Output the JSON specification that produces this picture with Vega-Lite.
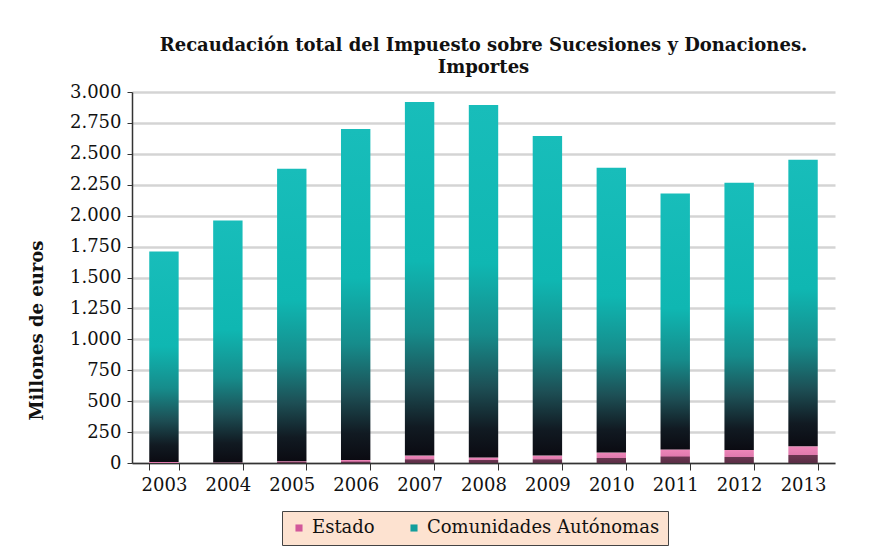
{
  "$schema": "https://vega.github.io/schema/vega-lite/v6.json",
  "autosize": {"type": "none"},
  "width": 703,
  "height": 371,
  "padding": {"left": 132, "top": 92, "right": 51, "bottom": 91},
  "background": "white",
  "config": {
    "locale": {"number": {"decimal": ",", "thousands": ".", "grouping": [3], "currency": ["", " €"]}},
    "view": {"stroke": null},
    "font": "DejaVu Serif"
  },
  "title": {
    "text": ["Recaudación total del Impuesto sobre Sucesiones y Donaciones.", "Importes"],
    "font": "DejaVu Serif",
    "fontSize": 18,
    "fontWeight": "bold",
    "color": "#111111",
    "anchor": "middle",
    "offset": 6,
    "lineHeight": 22
  },
  "data": {
    "values": [
      {"year": "2003", "serie": "Estado", "value": 8},
      {"year": "2003", "serie": "Comunidades Autónomas", "value": 1702},
      {"year": "2004", "serie": "Estado", "value": 5},
      {"year": "2004", "serie": "Comunidades Autónomas", "value": 1955},
      {"year": "2005", "serie": "Estado", "value": 15},
      {"year": "2005", "serie": "Comunidades Autónomas", "value": 2365},
      {"year": "2006", "serie": "Estado", "value": 25},
      {"year": "2006", "serie": "Comunidades Autónomas", "value": 2675},
      {"year": "2007", "serie": "Estado", "value": 60},
      {"year": "2007", "serie": "Comunidades Autónomas", "value": 2860},
      {"year": "2008", "serie": "Estado", "value": 45},
      {"year": "2008", "serie": "Comunidades Autónomas", "value": 2850},
      {"year": "2009", "serie": "Estado", "value": 60},
      {"year": "2009", "serie": "Comunidades Autónomas", "value": 2585},
      {"year": "2010", "serie": "Estado", "value": 85},
      {"year": "2010", "serie": "Comunidades Autónomas", "value": 2302},
      {"year": "2011", "serie": "Estado", "value": 110},
      {"year": "2011", "serie": "Comunidades Autónomas", "value": 2070},
      {"year": "2012", "serie": "Estado", "value": 105},
      {"year": "2012", "serie": "Comunidades Autónomas", "value": 2162},
      {"year": "2013", "serie": "Estado", "value": 135},
      {"year": "2013", "serie": "Comunidades Autónomas", "value": 2317}
    ]
  },
  "mark": {"type": "bar"},
  "encoding": {
    "x": {
      "field": "year",
      "type": "nominal",
      "scale": {"paddingInner": 0.54, "paddingOuter": 0.27},
      "axis": {
        "title": null,
        "labelAngle": 0,
        "labelFont": "DejaVu Serif",
        "labelFontSize": 18,
        "labelColor": "#111111",
        "labelPadding": 6,
        "domainColor": "#333333",
        "domainWidth": 1.5,
        "tickColor": "#333333",
        "tickSize": 7,
        "tickBand": "extent",
        "grid": false
      }
    },
    "y": {
      "field": "value",
      "type": "quantitative",
      "stack": "zero",
      "scale": {"domain": [0, 3000], "nice": false},
      "axis": {
        "title": "Millones de euros",
        "titleFont": "DejaVu Serif",
        "titleFontSize": 18,
        "titleFontWeight": "bold",
        "titleColor": "#111111",
        "titleX": -86,
        "titleY": 238,
        "values": [0, 250, 500, 750, 1000, 1250, 1500, 1750, 2000, 2250, 2500, 2750, 3000],
        "format": ",.0f",
        "labelFont": "DejaVu Serif",
        "labelFontSize": 18,
        "labelColor": "#111111",
        "labelPadding": 6,
        "domainColor": "#333333",
        "domainWidth": 1.5,
        "tickColor": "#333333",
        "tickSize": 5,
        "gridColor": "#d4d4d4",
        "gridWidth": 2.5
      }
    },
    "order": {"field": "serie", "sort": "descending"},
    "fill": {
      "field": "serie",
      "type": "nominal",
      "scale": {"domain": ["Estado", "Comunidades Autónomas"], "range": ["#d2589a", "#139e9c"]},
      "condition": [
        {
          "test": "datum.serie === 'Comunidades Autónomas'",
          "value": {
            "gradient": "linear",
            "x1": 0, "y1": 0, "x2": 0, "y2": 1,
            "stops": [
              {"offset": 0, "color": "#18bdba"},
              {"offset": 0.45, "color": "#0fb7b2"},
              {"offset": 0.65, "color": "#168c8b"},
              {"offset": 0.8, "color": "#1d4f55"},
              {"offset": 0.92, "color": "#111a22"},
              {"offset": 1, "color": "#0b0b12"}
            ]
          }
        },
        {
          "test": "datum.serie === 'Estado'",
          "value": {
            "gradient": "linear",
            "x1": 0, "y1": 0, "x2": 0, "y2": 1,
            "stops": [
              {"offset": 0, "color": "#ee86b8"},
              {"offset": 0.5, "color": "#e07aae"},
              {"offset": 0.55, "color": "#6a3550"},
              {"offset": 1, "color": "#5a2e45"}
            ]
          }
        }
      ],
      "legend": {
        "title": null,
        "orient": "none",
        "legendX": 150,
        "legendY": 419,
        "direction": "horizontal",
        "symbolType": "square",
        "symbolSize": 50,
        "symbolStrokeWidth": 0,
        "labelFont": "DejaVu Serif",
        "labelFontSize": 18,
        "labelLimit": 400,
        "labelColor": "#111111",
        "labelOffset": 4,
        "columnPadding": 30,
        "padding": 8,
        "fillColor": "#fde2d0",
        "strokeColor": "#444444"
      }
    }
  }
}
